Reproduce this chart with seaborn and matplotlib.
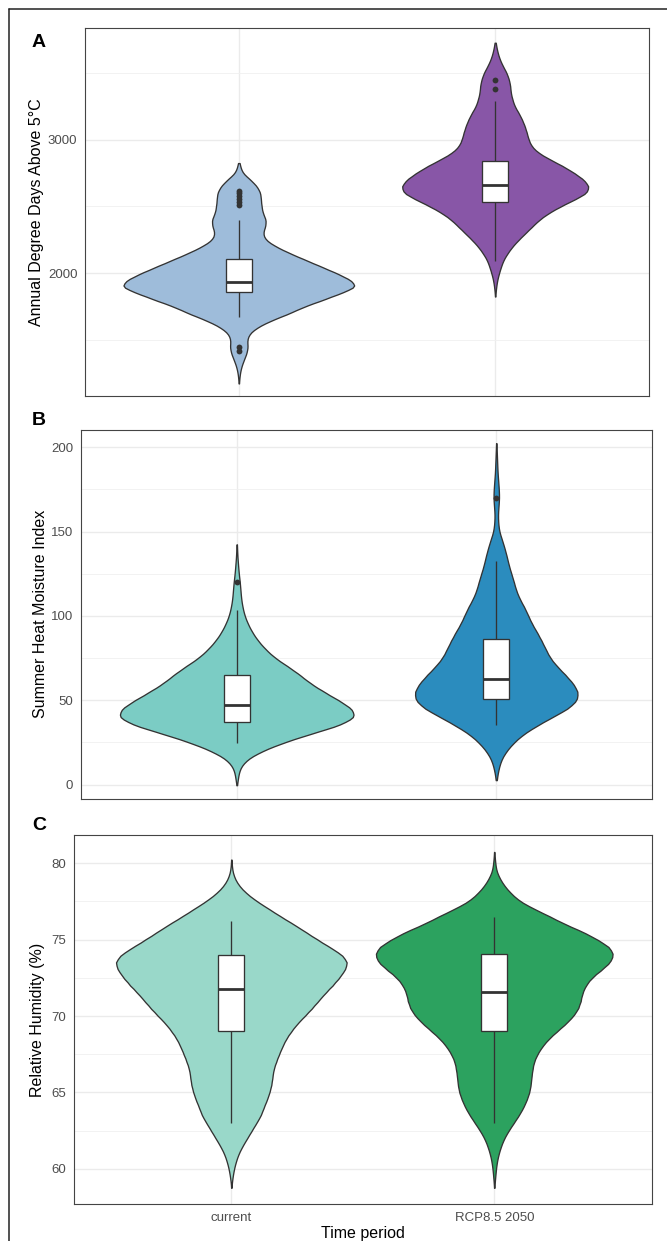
import numpy as np
import pandas as pd
import matplotlib
matplotlib.use("Agg")
import matplotlib.pyplot as plt
from matplotlib.lines import Line2D
from matplotlib.ticker import MultipleLocator
import seaborn as sns

sns.set_style("white")
plt.rcParams["font.family"] = ["Liberation Sans", "DejaVu Sans"]

periods = ["current", "RCP8.5 2050"]

# ---------------- Panel A: Annual degree days above 5 C ----------------
# value grid and relative frequency
gdd_values_current = [1200, 1250, 1300, 1350, 1400, 1450, 1500, 1550, 1600, 1650, 1700,
                      1750, 1800, 1850, 1900, 1950, 2000, 2050, 2100, 2150, 2200, 2250,
                      2300, 2350, 2400, 2450, 2500, 2550, 2600, 2650, 2700, 2750, 2800]
gdd_counts_current = [1, 3, 7, 14, 22, 26, 23, 30, 55, 95, 145,
                      185, 240, 290, 340, 320, 280, 235, 190, 145, 105, 75,
                      68, 76, 78, 68, 65, 63, 62, 52, 33, 10, 4]
gdd_values_rcp = [1850, 1900, 1950, 2000, 2050, 2100, 2150, 2200, 2250, 2300, 2350,
                  2400, 2450, 2500, 2550, 2600, 2650, 2700, 2750, 2800, 2850, 2900,
                  2950, 3000, 3050, 3100, 3150, 3200, 3250, 3300, 3350, 3400, 3450,
                  3500, 3550, 3600, 3650, 3700]
gdd_counts_rcp = [1, 3, 6, 11, 17, 24, 36, 50, 68, 88, 108,
                  128, 155, 190, 230, 268, 274, 258, 230, 198, 160, 125,
                  105, 97, 92, 86, 78, 68, 56, 50, 45, 44, 40,
                  33, 22, 13, 7, 3]
# box summary: lower whisker, Q1, median, Q3, upper whisker
gdd_box_current = [1675, 1858, 1938, 2105, 2400]
gdd_box_rcp = [2092, 2535, 2662, 2842, 3287]
gdd_outliers_current = [1415, 1450, 2510, 2530, 2555, 2580, 2600, 2615]
gdd_outliers_rcp = [3375, 3447]

# ---------------- Panel B: Summer heat moisture index ----------------
shm_values_current = [2, 5, 10, 15, 20, 25, 30, 35, 40, 45, 50, 55, 60, 65, 70,
                      75, 80, 85, 90, 95, 100, 105, 110, 115, 120, 125, 130, 135, 140]
shm_counts_current = [1, 4, 10, 30, 75, 138, 215, 300, 350, 338, 298, 255, 215, 185, 150,
                      112, 85, 63, 46, 33, 23, 17, 13, 11, 9, 6, 4, 2, 1]
shm_values_rcp = [5, 10, 15, 20, 25, 30, 35, 40, 45, 50, 55, 60, 65, 70, 75, 80, 85, 90,
                  95, 100, 105, 110, 115, 120, 125, 130, 135, 140, 145, 150, 155, 160,
                  165, 170, 175, 180, 185, 190, 195, 200]
shm_counts_rcp = [3, 8, 16, 32, 55, 85, 128, 175, 225, 254, 256, 240, 216, 190, 168, 155,
                  142, 128, 112, 100, 88, 73, 62, 55, 47, 39, 33, 26, 18, 9, 6, 5,
                  7, 9, 8, 6, 4, 3, 2, 1]
shm_box_current = [24.9, 37.3, 46.9, 64.9, 103.7]
shm_box_rcp = [35.1, 50.9, 62.7, 86.4, 132.3]
shm_outliers_current = [120]
shm_outliers_rcp = [169.6]

# ---------------- Panel C: Relative humidity (%) ----------------
rh_values_current = [59.0, 59.5, 60.0, 60.5, 61.0, 61.5, 62.0, 62.5, 63.0, 63.5, 64.0,
                     64.5, 65.0, 65.5, 66.0, 66.5, 67.0, 67.5, 68.0, 68.5, 69.0, 69.5,
                     70.0, 70.5, 71.0, 71.5, 72.0, 72.5, 73.0, 73.5, 74.0, 74.5, 75.0,
                     75.5, 76.0, 76.5, 77.0, 77.5, 78.0, 78.5, 79.0, 79.5, 80.0]
rh_counts_current = [1, 4, 8, 14, 22, 34, 48, 62, 76, 90, 98,
                     108, 116, 122, 125, 128, 136, 145, 155, 166, 182, 200,
                     223, 245, 265, 285, 308, 328, 345, 355, 338, 300, 262,
                     226, 190, 151, 115, 78, 47, 24, 10, 3, 1]
rh_values_rcp = [59.0, 59.5, 60.0, 60.5, 61.0, 61.5, 62.0, 62.5, 63.0, 63.5, 64.0,
                 64.5, 65.0, 65.5, 66.0, 66.5, 67.0, 67.5, 68.0, 68.5, 69.0, 69.5,
                 70.0, 70.5, 71.0, 71.5, 72.0, 72.5, 73.0, 73.5, 74.0, 74.5, 75.0,
                 75.5, 76.0, 76.5, 77.0, 77.5, 78.0, 78.5, 79.0, 79.5, 80.0, 80.5]
rh_counts_rcp = [1, 3, 5, 8, 13, 20, 29, 42, 57, 72, 85,
                 95, 103, 107, 109, 112, 116, 126, 140, 159, 184, 210,
                 232, 247, 254, 258, 268, 285, 313, 340, 351, 340, 303,
                 262, 208, 165, 118, 75, 50, 30, 16, 6, 3, 1]
rh_box_current = [63.0, 69.0, 71.8, 74.0, 76.2]
rh_box_rcp = [63.03, 69.03, 71.6, 74.07, 76.47]
rh_outliers_current = []
rh_outliers_rcp = []

colors_A = ["#9EBCDA", "#8856A7"]
colors_B = ["#7BCCC4", "#2B8CBE"]
colors_C = ["#99D8C9", "#2CA25F"]

W, H = 667, 1241
fig = plt.figure(figsize=(W / 100, H / 100), dpi=100)
fig.patch.set_facecolor("white")


def rect(left, right, top, bottom):
    return [left / W, 1 - bottom / H, (right - left) / W, (bottom - top) / H]


EDGE = "#333333"


def panel(ax, vc, cc, vr, cr, box_c, box_r, out_c, out_r, colors, sigma,
          ylim, major, minor, ylabel, ylabel_x, ax_left, ax_width):
    df = pd.DataFrame({
        "period": [periods[0]] * int(np.sum(cc)) + [periods[1]] * int(np.sum(cr)),
        "value": np.concatenate([np.repeat(vc, cc), np.repeat(vr, cr)]).astype(float),
    })
    bw = lambda k: sigma / np.std(k.dataset, ddof=1)
    sns.violinplot(data=df, x="period", y="value", hue="period", order=periods,
                   hue_order=periods, palette=colors, legend=False, inner=None,
                   cut=0.8, width=0.9, linewidth=0.95, linecolor=EDGE, saturation=1,
                   bw_method=bw, density_norm="area", common_norm=True, ax=ax)
    bx = [periods[0]] * len(box_c) + [periods[1]] * len(box_r)
    sns.boxplot(x=bx, y=list(box_c) + list(box_r), order=periods, width=0.1,
                whis=(0, 100), showfliers=False, color="white", linecolor=EDGE,
                linewidth=0.95, saturation=1,
                boxprops={"facecolor": "white"},
                medianprops={"linewidth": 2.0, "color": EDGE},
                capprops={"visible": False}, ax=ax)
    ox = [periods[0]] * len(out_c) + [periods[1]] * len(out_r)
    oy = list(out_c) + list(out_r)
    if oy:
        sns.stripplot(x=ox, y=oy, order=periods, jitter=False, color=EDGE,
                      size=4.2, linewidth=0, ax=ax, zorder=5)
    ax.set_xlim(-0.6, 1.6)
    ax.set_ylim(*ylim)
    ax.yaxis.set_major_locator(MultipleLocator(major))
    ax.yaxis.set_minor_locator(MultipleLocator(minor))
    ax.set_axisbelow(True)
    ax.grid(which="major", axis="both", color="#EBEBEB", linewidth=1.0)
    ax.grid(which="minor", axis="y", color="#F0F0F0", linewidth=0.6)
    ax.tick_params(axis="both", which="major", length=3, width=0.8, color=EDGE,
                   labelsize=9.5, labelcolor="#4D4D4D", pad=2.5)
    ax.tick_params(axis="both", which="minor", length=0)
    for s in ax.spines.values():
        s.set_visible(True)
        s.set_color("#444444")
        s.set_linewidth(0.8)
    ax.set_ylabel(ylabel, fontsize=11.5, color="black", va="center")
    ax.yaxis.set_label_coords((ylabel_x - ax_left) / ax_width, 0.5)
    ax.set_facecolor("white")


# Panel A
axA = fig.add_axes(rect(85, 649, 28, 396))
panel(axA, gdd_values_current, gdd_counts_current, gdd_values_rcp, gdd_counts_rcp,
      gdd_box_current, gdd_box_rcp, gdd_outliers_current, gdd_outliers_rcp,
      colors_A, 30, (1082, 3834), 1000, 500, "Annual Degree Days Above 5°C",
      36.5, 85, 564)
axA.set_xlabel("")
axA.tick_params(axis="x", labelbottom=False)

# Panel B
axB = fig.add_axes(rect(81, 652, 430, 798.7))
panel(axB, shm_values_current, shm_counts_current, shm_values_rcp, shm_counts_rcp,
      shm_box_current, shm_box_rcp, shm_outliers_current, shm_outliers_rcp,
      colors_B, 3, (-8.4, 210.2), 50, 25, "Summer Heat Moisture Index",
      40.5, 81, 571)
axB.set_xlabel("")
axB.tick_params(axis="x", labelbottom=False)

# Panel C
axC = fig.add_axes(rect(73.6, 652, 835, 1204))
panel(axC, rh_values_current, rh_counts_current, rh_values_rcp, rh_counts_rcp,
      rh_box_current, rh_box_rcp, rh_outliers_current, rh_outliers_rcp,
      colors_C, 0.3, (57.7, 81.85), 5, 2.5, "Relative Humidity (%)",
      37.5, 73.6, 578.4)
axC.set_xlabel("Time period", fontsize=11.5, color="black", va="baseline")
axC.xaxis.set_label_coords(0.5, (1204 - 1238) / 369)

# panel letters
for letter, (lx, ly) in zip(["A", "B", "C"], [(32, 46.7), (32, 425), (32, 830)]):
    fig.text(lx / W, 1 - ly / H, letter, fontsize=14, fontweight="bold",
             ha="left", va="baseline", color="black")

# outer frame (left and top edges)
fig.add_artist(Line2D([8.5 / W, 8.5 / W], [0, 1 - 9.3 / H], transform=fig.transFigure,
                      color="#222222", linewidth=1.1))
fig.add_artist(Line2D([8.5 / W, 1], [1 - 9.3 / H, 1 - 9.3 / H], transform=fig.transFigure,
                      color="#222222", linewidth=1.1))

fig.savefig("out.png", dpi=100, facecolor="white")
